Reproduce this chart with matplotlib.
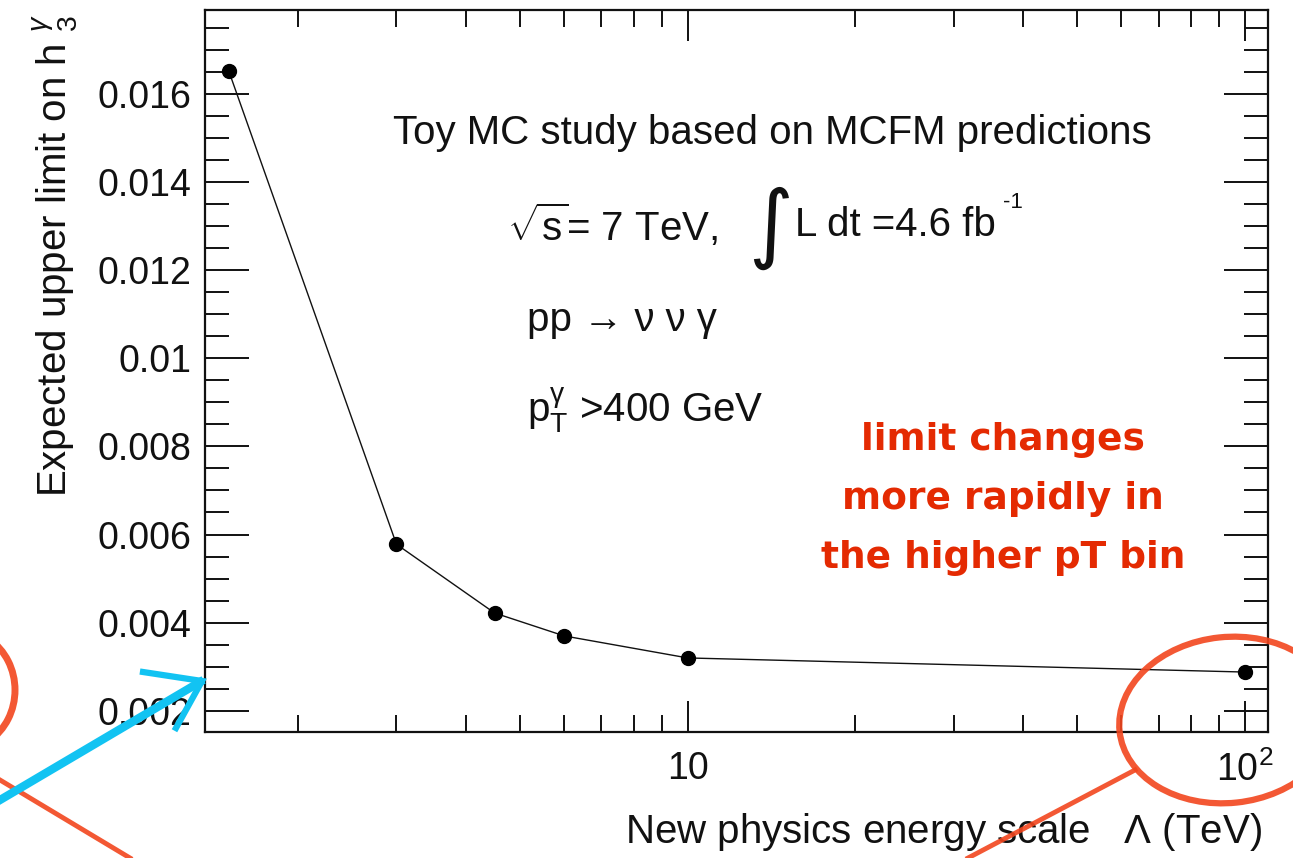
"""Expected upper limit on h3^gamma vs new physics scale (toy MC, MCFM)."""
import matplotlib
matplotlib.use('Agg')
import matplotlib.pyplot as plt
from matplotlib.patches import Ellipse, Arc
from matplotlib.ticker import FixedLocator, NullFormatter

# data
LAMBDA_TEV = [1.5, 3.0, 4.5, 6.0, 10.0, 100.0]
LIMIT_H3 = [0.01652, 0.00578, 0.00422, 0.00370, 0.00320, 0.00288]
Y_TICKS = [0.002, 0.004, 0.006, 0.008, 0.01, 0.012, 0.014, 0.016]
Y_TICK_LABELS = ['0.002', '0.004', '0.006', '0.008', '0.01', '0.012', '0.014', '0.016']
X_TICKS = [10, 100]
X_TICK_LABELS = ['10', r'$10^{2}$']
NOTE_LINES = ['limit changes', 'more rapidly in', 'the higher pT bin']

INK = '#111111'
RED = '#E42A02'
PEN_RED = '#F2461E'
PEN_BLUE = '#12C3F2'
FAM = ['Liberation Sans', 'DejaVu Sans']

plt.rcParams.update({'font.family': FAM,
                     'mathtext.fontset': 'custom',
                     'mathtext.rm': 'Liberation Sans',
                     'mathtext.it': 'Liberation Sans:italic',
                     'mathtext.bf': 'Liberation Sans:bold'})

W, H = 1293, 858
fig = plt.figure(figsize=(W / 100, H / 100), dpi=100)
ax = fig.add_axes([205 / W, 1 - 732 / H, (1268 - 205) / W, (732 - 10) / H])

ax.plot(LAMBDA_TEV, LIMIT_H3, '-', color=INK, lw=1.0)
ax.plot(LAMBDA_TEV, LIMIT_H3, 'o', color='black', ms=10, zorder=3)

ax.set_xscale('log')
ax.set_xlim(1.36, 110)
ax.set_ylim(0.00152, 0.0179)

ax.set_yticks(Y_TICKS)
ax.set_yticklabels(Y_TICK_LABELS)
ax.yaxis.set_minor_locator(FixedLocator([0.0015 + 0.0005 * i for i in range(34)]))
ax.set_xticks(X_TICKS)
ax.set_xticklabels(X_TICK_LABELS)
minors = [m * d for d in (1, 10) for m in range(2, 10)]
ax.xaxis.set_minor_locator(FixedLocator(minors))
ax.xaxis.set_minor_formatter(NullFormatter())

for s in ax.spines.values():
    s.set_linewidth(1.6)
    s.set_color(INK)
ax.tick_params(which='both', direction='in', top=True, right=True, color=INK,
               width=1.4, labelsize=27, labelcolor=INK)
ax.tick_params(axis='y', which='major', length=32, pad=10)
ax.tick_params(axis='y', which='minor', length=17)
ax.tick_params(axis='x', which='major', length=22, pad=14)
ax.tick_params(axis='x', which='minor', length=12)

fig.text(1262 / W, 1 - 832 / H, r'New physics energy scale   $\Lambda$ (TeV)',
         ha='right', va='center', fontsize=29, color=INK)
fig.text(55 / W, 1 - 14 / H, r'Expected upper limit on h $_{3}^{\gamma}$',
         rotation=90, ha='center', va='top', fontsize=29, color=INK)

# legend-style text inside the frame
fig.text(393 / W, 1 - 133 / H, 'Toy MC study based on MCFM predictions',
         ha='left', va='center', fontsize=29, color=INK)
fig.text(507 / W, 1 - 225 / H, r'$\sqrt{\rm s}$= 7 TeV,', ha='left', va='center',
         fontsize=29, color=INK)
fig.text(748 / W, 1 - 228 / H, '\u222b', ha='left', va='center', fontsize=62,
         color=INK, family=['DejaVu Sans'])
fig.text(795 / W, 1 - 225 / H, 'L dt =4.6 fb', ha='left', va='center',
         fontsize=29, color=INK)
fig.text(1003 / W, 1 - 203 / H, '-1', ha='left', va='center', fontsize=16, color=INK)
fig.text(527 / W, 1 - 320 / H, 'pp \u2192 \u03bd \u03bd \u03b3', ha='left',
         va='center', fontsize=29, color=INK)
fig.text(527 / W, 1 - 410 / H, r'p$_{\rm T}^{\mathrm{\gamma}}$ >400 GeV', ha='left',
         va='center', fontsize=29, color=INK)

for i, line in enumerate(NOTE_LINES):
    fig.text(1003 / W, 1 - (440 + 59 * i) / H, line, ha='center', va='center',
             fontsize=27, fontweight='bold', family=['DejaVu Sans'], color=RED)

# pen marks on the slide, drawn in pixel space of the whole figure
pen = fig.add_axes([0, 0, 1, 1], zorder=5)
pen.set_xlim(0, W)
pen.set_ylim(H, 0)
pen.axis('off')
pen.add_patch(Ellipse((1228, 720), 218, 166, angle=-6, fill=False,
                      ec=PEN_RED, lw=4.5, alpha=0.9))
pen.plot([1135, 968], [770, 858], color=PEN_RED, lw=3.5, alpha=0.9)
pen.add_patch(Arc((-40, 690), 110, 120, theta1=-60, theta2=60,
                  ec=PEN_RED, lw=5, alpha=0.9))
pen.plot([0, 130], [780, 858], color=PEN_RED, lw=3.5, alpha=0.9)
pen.plot([0, 200], [800, 682], color=PEN_BLUE, lw=6)
pen.plot([143, 202, 176], [672, 681, 728], color=PEN_BLUE, lw=4.5,
         solid_joinstyle='miter')

fig.savefig('out.png', dpi=100)
